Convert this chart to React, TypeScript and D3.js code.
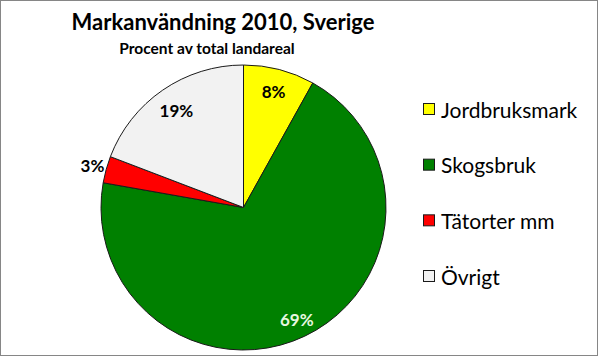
import React from "react";
import * as d3 from "d3";

const categories = ["Jordbruksmark", "Skogsbruk", "Tätorter mm", "Övrigt"];
const values = [8, 69, 3, 19];
const colors = ["#FFFF00", "#008000", "#FF0000", "#F2F2F2"];
const labelText = ["8%", "69%", "3%", "19%"];

const W = 599;
const H = 357;
const FONT = "Lato, 'Open Sans', sans-serif";

export default function App() {
  const cx = 243.5;
  const cy = 207.5;
  const r = 142.5;
  const pie = d3.pie<number>().sort(null).value((d) => d)(values);
  const arc = d3.arc<d3.PieArcDatum<number>>().innerRadius(0).outerRadius(r);
  const labelRadius = [0.84, 0.87, 1.1, 0.83];
  const labelColors = ["#000", "#E8F8E0", "#000", "#000"];

  const legendY = d3.scalePoint<string>().domain(categories).range([109, 276]);

  return (
    <svg
      width={W}
      height={H}
      style={{ position: "absolute", left: 0, top: 0, background: "#fff" }}
      fontFamily={FONT}
    >
      <rect x={0.5} y={0.5} width={597} height={355} fill="#fff" stroke="#868686" strokeWidth={1} />
      <text x={223} y={30} textAnchor="middle" fontSize={22} fontWeight="bold" fill="#000">
        Markanvändning 2010, Sverige
      </text>
      <text x={207} y={54} textAnchor="middle" fontSize={15.5} fontWeight="bold" fill="#000">
        Procent av total landareal
      </text>
      <g transform={`translate(${cx},${cy})`}>
        {pie.map((p, i) => (
          <path key={i} d={arc(p) || ""} fill={colors[i]} stroke="#1a1a1a" strokeWidth={1} />
        ))}
        {pie.map((p, i) => {
          const a = (p.startAngle + p.endAngle) / 2;
          const rr = r * labelRadius[i];
          const x = Math.sin(a) * rr;
          const y = -Math.cos(a) * rr;
          return (
            <text
              key={"l" + i}
              x={x}
              y={y}
              textAnchor="middle"
              dominantBaseline="central"
              fontSize={17}
              fontWeight="bold"
              fill={labelColors[i]}
            >
              {labelText[i]}
            </text>
          );
        })}
      </g>
      {categories.map((c, i) => (
        <g key={c} transform={`translate(0,${legendY(c)})`}>
          <rect x={423.5} y={-5.5} width={11} height={11} fill={colors[i]} stroke="#1a1a1a" strokeWidth={1} />
          <text x={441} y={0} dominantBaseline="central" fontSize={21} fill="#000">
            {c}
          </text>
        </g>
      ))}
    </svg>
  );
}
